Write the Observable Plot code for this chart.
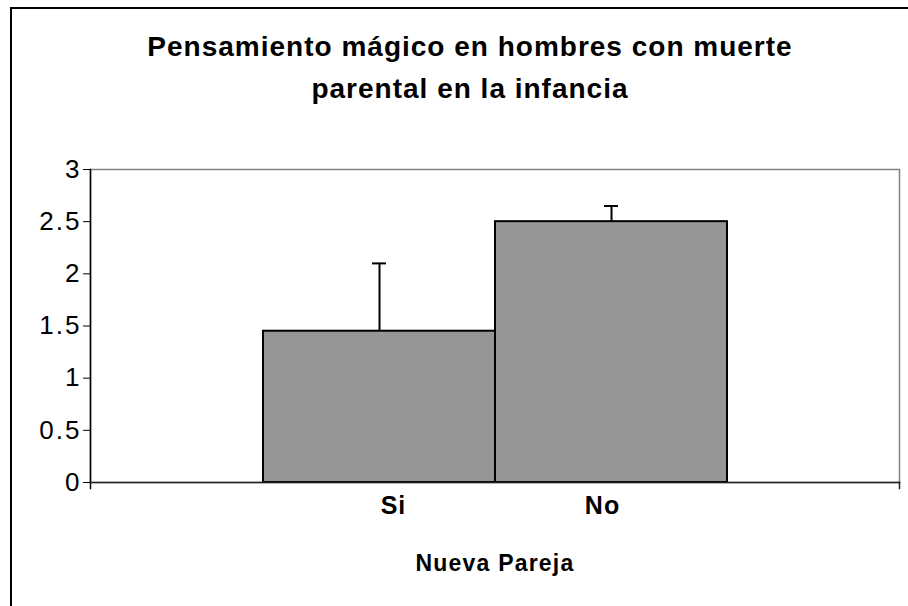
<!DOCTYPE html>
<html><head><meta charset="utf-8">
<script src="https://cdn.jsdelivr.net/npm/d3@7"></script>
<script src="https://cdn.jsdelivr.net/npm/@observablehq/plot@0.6"></script>
<style>
body{margin:0;background:#fff;}
#wrap{position:relative;width:908px;height:606px;overflow:hidden;font-family:"Liberation Sans",Arial,sans-serif;}
#border{position:absolute;left:10px;top:7px;width:1000px;height:1000px;border-left:2px solid #000;border-top:2px solid #000;}
#title{position:absolute;left:0;width:940px;top:26px;text-align:center;font-weight:bold;font-size:28px;letter-spacing:1px;line-height:42px;color:#000;}
#chart{position:absolute;left:0;top:0;}
#chart g[aria-label="y-axis tick label"]{letter-spacing:2px;}
#chart g[aria-label="x-axis tick label"]{letter-spacing:1px;}
#chart g[aria-label="text"]{letter-spacing:1.2px;}
</style></head><body>
<div id="wrap"><div id="border"></div><div id="title">Pensamiento mágico en hombres con muerte<br>parental en la infancia</div><div id="chart"></div></div>
<script>
const categories = ["Si", "No"];
const means = [1.45, 2.5];
const errors = [0.65, 0.15];
const yTicks = [0, 0.5, 1, 1.5, 2, 2.5, 3];
const xTitle = "Nueva Pareja";

const data = categories.map((c, i) => ({cat: c, mean: means[i], hi: means[i] + errors[i]}));

const plot = Plot.plot({
  width: 908, height: 606,
  marginLeft: 90, marginRight: 9, marginTop: 169, marginBottom: 124,
  style: {fontFamily: "Liberation Sans, Arial, sans-serif", background: "transparent", color: "#000"},
  x: {type: "band", domain: categories, paddingInner: 0, paddingOuter: 0.7435, axis: null},
  y: {domain: [0, 3], axis: null},
  marks: [
    Plot.frame({stroke: "#808080", strokeWidth: 1.5}),
    Plot.barY(data, {x: "cat", y: "mean", fill: "#969696", stroke: "#000", strokeWidth: 2}),
    Plot.ruleX(data, {x: "cat", y1: "mean", y2: "hi", stroke: "#000", strokeWidth: 2}),
    Plot.tickY(data, {x: "cat", y: "hi", insetLeft: 109, insetRight: 109, stroke: "#000", strokeWidth: 2}),
    Plot.frame({anchor: "left", stroke: "#000", strokeWidth: 1.5, insetBottom: -6}),
    Plot.frame({anchor: "right", stroke: "#222", strokeWidth: 1.5, insetTop: 313, insetBottom: -6}),
    Plot.frame({anchor: "bottom", stroke: "#222", strokeWidth: 1.5}),
    Plot.axisY({ticks: yTicks, tickSize: 7, tickPadding: 2, fontSize: 26, tickFormat: d => String(d), stroke: "#000"}),
    Plot.axisX([categories[0]], {tickSize: 0, tickPadding: 14, fontSize: 25, fontWeight: "bold", dx: 14, label: null}),
    Plot.axisX([categories[1]], {tickSize: 0, tickPadding: 14, fontSize: 25, fontWeight: "bold", dx: -9, label: null}),
    Plot.text([xTitle], {frameAnchor: "bottom", dy: 81, fontSize: 23, fontWeight: "bold", textAnchor: "middle", lineAnchor: "middle"})
  ]
});
document.getElementById("chart").appendChild(plot);
</script>
</body></html>
